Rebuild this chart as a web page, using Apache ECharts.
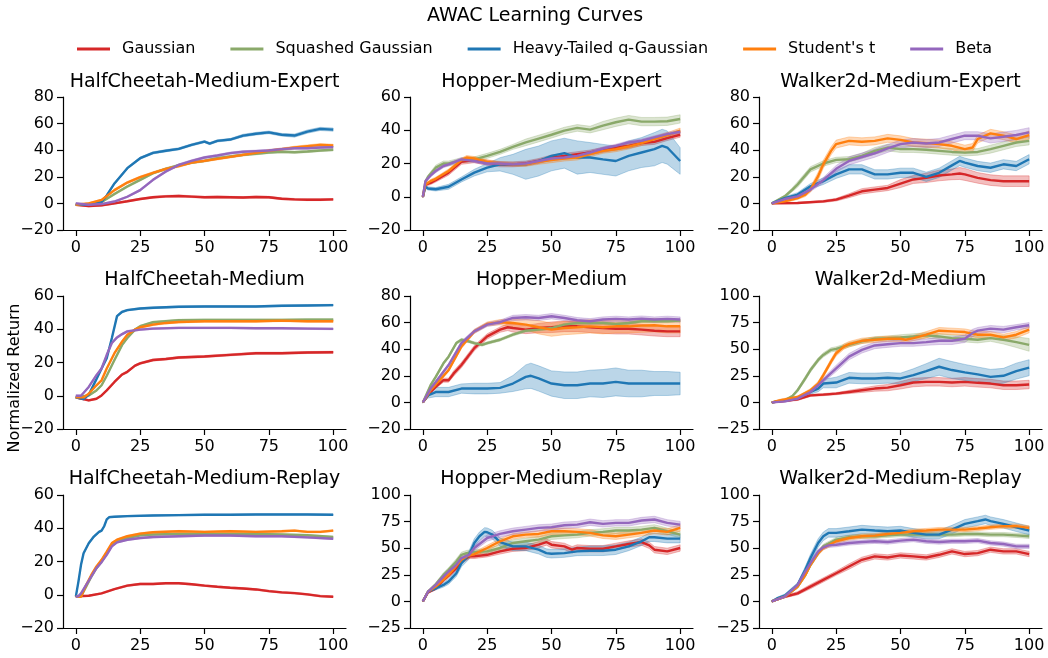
<!DOCTYPE html>
<html>
<head>
<meta charset="utf-8">
<script src="https://cdn.jsdelivr.net/npm/echarts@6/dist/echarts.min.js"></script>
<style>
html,body{margin:0;padding:0;background:#fff;}
#chart{width:1048px;height:658px;}
</style>
</head>
<body>
<div id="chart"></div>
<script>
// ---------------- DATA ----------------
const SERIES_NAMES = ['Gaussian', 'Squashed Gaussian', 'Heavy-Tailed q-Gaussian', "Student's t", 'Beta'];
const X_TICKS = [0, 25, 50, 75, 100];
const PANEL_TITLES = ['HalfCheetah-Medium-Expert', 'Hopper-Medium-Expert', 'Walker2d-Medium-Expert',
  'HalfCheetah-Medium', 'Hopper-Medium', 'Walker2d-Medium',
  'HalfCheetah-Medium-Replay', 'Hopper-Medium-Replay', 'Walker2d-Medium-Replay'];
// [min, max, interval] per panel
const Y_RANGES = [[-20, 80, 20], [-20, 60, 20], [-20, 80, 20],
  [-20, 60, 20], [-20, 80, 20], [-25, 100, 25],
  [-20, 60, 20], [-25, 100, 25], [-25, 100, 25]];

// each point: [step, mean, band half-width]
const HCME_GAUSSIAN = [[0,-1,0.6],[5,-2,0.6],[10,-1.5,0.6],[15,0,0.6],[20,1.6,0.6],[25,3.3,0.6],[30,4.6,0.7],[35,5.3,0.7],[40,5.6,0.7],[45,5.1,0.7],[50,4.6,0.7],[55,4.8,0.7],[60,4.6,0.7],[65,4.4,0.7],[70,4.8,0.7],[75,4.6,0.7],[80,3.5,0.7],[85,3,0.7],[90,2.8,0.7],[95,2.8,0.7],[100,3,0.7]];
const HCME_SQUASHED = [[0,-1,0.6],[5,-0.5,0.6],[10,1,0.6],[15,7,0.8],[20,12.7,0.8],[25,17.7,0.8],[30,22.7,0.8],[35,26,0.8],[40,28.7,0.8],[45,30.7,0.8],[50,32,0.8],[55,34,0.8],[60,35.3,0.8],[65,36.5,0.8],[70,37.3,0.8],[75,38.3,0.8],[80,38.8,0.8],[85,38.5,0.8],[90,39,0.8],[95,39.8,0.8],[100,40.3,0.8]];
const HCME_HEAVY = [[0,-1,0.6],[5,-1,0.6],[10,1,0.8],[12,6,0.8],[15,15,0.8],[20,26.5,0.8],[25,34,0.8],[30,38,0.8],[35,39.6,0.8],[40,41,0.8],[45,44,0.8],[50,46.5,0.8],[52,45,0.8],[55,47,0.8],[60,48,0.8],[65,51,1],[70,52.4,1],[75,53.4,1],[80,51.6,1],[85,51,1.2],[90,54,1.2],[95,56,1.2],[100,55.5,1.2]];
const HCME_STUDENT = [[0,-1,0.6],[5,0,0.6],[10,2.6,0.6],[15,10,0.8],[20,15.7,0.8],[25,19.7,0.8],[30,23,0.8],[35,26,0.8],[40,28,0.8],[45,30.7,0.8],[50,32,0.8],[55,33.5,0.8],[60,35,0.8],[65,36.5,0.8],[70,38,0.8],[75,39.6,0.8],[80,40.8,0.8],[85,42,1],[90,43,1],[95,44,1],[100,43.5,1]];
const HCME_BETA = [[0,0,0.6],[5,-1,0.6],[10,-0.5,0.6],[15,1.4,0.6],[20,5,0.6],[25,10,0.8],[30,17.7,0.8],[35,24,0.8],[40,29,0.8],[45,32,0.8],[50,34.5,0.8],[55,36,0.8],[60,37.8,0.8],[65,38.8,0.8],[70,39.3,0.8],[75,39.8,0.8],[80,40.8,0.8],[85,41.5,0.8],[90,41.5,0.8],[95,42,0.8],[100,42.3,0.8]];

const HME_GAUSSIAN = [[0,0,0.5],[1,7.3,1],[3,8.3,1],[5,10,1.2],[10,14.5,1.5],[15,21,1.5],[20,22,1.5],[25,20.5,1.5],[30,19.5,1.5],[35,19.5,1.5],[40,20,1.5],[45,21.5,1.5],[50,23.6,1.5],[55,24.6,1.5],[60,25.6,1.5],[65,26.6,1.5],[70,28.2,1.5],[75,29.6,1.5],[80,30.6,1.5],[85,32.3,1.5],[90,33,1.5],[95,35.3,1.5],[100,37.3,1.5]];
const HME_SQUASHED = [[0,0,0.5],[1,9,1],[2,12,1],[5,17.5,1.5],[8,20,1.5],[10,20,1.5],[15,22,1.5],[20,22.5,1.5],[25,24.6,1.5],[30,27,1.5],[35,30,1.5],[40,32.7,2],[45,35,2],[50,37.3,2],[55,39.8,2],[60,41.4,2],[65,40.4,2],[70,42.8,2.5],[75,44.8,2.5],[80,46.4,2.5],[85,45.2,2.5],[90,45.2,2.5],[95,45.4,2.5],[100,46.8,2.5]];
const HME_HEAVY = [[0,0,0.5],[1,6,1],[2,5,1],[5,4.5,1],[10,6,1.5],[15,10.4,1.5],[20,14.5,2],[25,17.5,2.5],[30,19.5,4],[35,19.5,6],[40,19.5,9],[45,21.5,9],[50,24.6,9],[55,26.2,9],[60,23.6,10],[65,23.6,9],[70,22.5,9],[75,21.5,9],[80,24.6,9],[85,26.6,9],[90,28.6,10],[93,30.6,10],[95,29.6,10],[100,21.5,8]];
const HME_STUDENT = [[0,0,0.5],[1,7.3,1],[3,9.4,1],[5,10.8,1],[10,15.5,1.2],[15,22,1.2],[17,23.6,1.2],[20,23,1.2],[25,21,1.2],[30,20,1.2],[35,19.5,1.2],[40,19.5,1.2],[45,21,1.5],[50,22,1.5],[55,23,1.5],[60,23.6,1.5],[65,25.6,1.5],[70,27.6,1.5],[75,28.6,1.5],[80,30.2,1.5],[85,32.3,1.5],[90,34.7,1.5],[95,37.1,1.5],[100,39.8,1.5]];
const HME_BETA = [[0,0,0.5],[1,9.4,1],[3,12.8,1],[5,15.5,1],[8,18.5,1],[10,19.5,1],[15,22.5,1],[20,21.5,1],[25,20,1],[30,20,1],[35,19.5,1],[40,20,1],[45,21.5,1],[50,23,1],[55,23.6,1],[60,24.6,1],[65,26.6,1],[70,29,1],[75,30.6,1],[80,32.7,1],[85,33.7,1],[90,35.7,1],[95,37.7,1],[100,39.1,1]];

const WME_GAUSSIAN = [[0,0,0.3],[10,0.3,0.5],[20,1.5,0.8],[25,2.8,1],[30,5.8,1.5],[35,9.1,2],[40,10.4,2],[45,11.6,2],[50,14.9,3],[55,18,3],[60,19.2,3.5],[65,21,4],[70,21.8,4],[73,22.5,4.5],[75,21.8,4.5],[80,19.2,4],[85,17.5,4],[90,16.7,4],[95,16.7,4],[100,16.7,4]];
const WME_SQUASHED = [[0,0,0.5],[5,5.3,1],[8,10.4,1.5],[10,14.2,2],[15,25.6,2],[20,30,2],[25,32.7,2],[30,33.2,2],[35,35.7,2],[40,39.5,2.5],[45,42,2.5],[50,40.8,2.5],[55,40.8,2.5],[60,40.3,2.5],[65,39.5,2.5],[70,38.7,2.5],[75,38.2,2.5],[80,38.7,2.5],[85,40.8,3],[90,43.3,3],[95,45.8,3],[100,47,3]];
const WME_HEAVY = [[0,0,0.5],[5,4,1],[10,6.6,1.5],[15,12.9,2],[20,16.7,2.5],[25,21.8,3],[30,25.6,3.5],[35,25.6,3.5],[40,21.8,3.5],[45,21.8,3.5],[50,23,3.5],[55,23,3.5],[60,20,3.5],[65,23,3.5],[70,28.6,3.5],[73,31.9,3.5],[75,30.6,3.5],[80,28.1,3.5],[85,26.8,3.5],[90,29.4,3.5],[95,28.1,3.5],[100,33.2,3.5]];
const WME_STUDENT = [[0,0,0.5],[5,1.5,1],[10,4,1],[13,6.6,1.5],[15,10.4,2],[18,20.5,3],[20,29.4,3],[23,39.5,3],[25,44.6,3],[30,47,3],[35,46.3,3],[40,47,3],[45,48.9,3],[50,47.8,3],[55,45.8,3],[60,45.3,3],[65,44.6,3],[70,43.3,3],[75,40.8,3],[78,42,3],[80,48.4,3],[85,52.7,3],[90,50.9,3],[95,48.4,3],[100,51.4,3]];
const WME_BETA = [[0,0,0.5],[5,3.3,1],[10,5.3,1],[15,10.4,1.5],[20,17.5,2],[25,26,2.5],[30,31.9,3],[35,34.9,3],[40,37.7,3],[45,41.3,3],[50,44.6,3],[55,45.8,3],[60,45,3],[65,45.8,3],[70,48.4,3],[75,50.9,3],[80,50.9,3],[85,48.9,3.5],[90,50.1,3.5],[95,51.4,3.5],[100,53.4,3.5]];

const HCM_GAUSSIAN = [[0,-1,0.5],[5,-2.8,0.5],[8,-1.8,0.5],[10,0.2,0.5],[12,3.2,0.5],[15,8.3,0.6],[18,12.8,0.6],[20,14.4,0.6],[23,18.1,0.6],[25,19.5,0.6],[30,21.5,0.6],[35,22.1,0.6],[40,23,0.6],[50,23.6,0.6],[60,24.6,0.6],[70,25.6,0.6],[80,25.6,0.6],[90,26,0.6],[100,26.2,0.6]];
const HCM_SQUASHED = [[0,-1,0.5],[5,0.2,0.5],[8,3.2,0.5],[10,6.3,0.6],[12,12,0.6],[15,21.5,0.6],[18,30.6,0.6],[20,34.7,0.6],[23,39.8,0.6],[25,41.8,0.6],[30,44.2,0.6],[35,44.8,0.6],[40,45.4,0.6],[50,45.6,0.6],[60,45.6,0.6],[70,45.6,0.6],[80,45.6,0.6],[90,45.8,0.6],[100,45.8,0.6]];
const HCM_HEAVY = [[0,-1,0.5],[3,-2,0.5],[5,0.6,0.5],[8,10,0.6],[10,16.4,0.6],[12,22.6,0.6],[14,34.7,0.6],[16,47.9,0.6],[18,50.5,0.6],[20,51.5,0.5],[25,52.5,0.5],[30,52.9,0.5],[40,53.5,0.5],[50,53.7,0.5],[60,53.7,0.5],[70,53.7,0.5],[80,54.1,0.5],[90,54.3,0.5],[100,54.5,0.5]];
const HCM_STUDENT = [[0,-1,0.5],[3,-1,0.5],[5,1.2,0.5],[8,6.3,0.6],[10,9.3,0.6],[12,16.4,0.6],[15,25.6,0.6],[18,32.7,0.6],[20,36.7,0.6],[23,39.8,0.6],[25,41.2,0.6],[30,42.8,0.6],[35,43.8,0.6],[40,44.4,0.6],[50,44.8,0.6],[60,44.8,0.6],[70,44.8,0.6],[80,45.2,0.6],[90,44.8,0.6],[100,44.8,0.6]];
const HCM_BETA = [[0,0,0.5],[2,0,0.5],[5,5.3,0.6],[8,12.4,0.6],[10,16.4,0.6],[12,24.6,0.6],[14,31.7,0.6],[16,35.1,0.6],[18,37.1,0.6],[20,38.7,0.6],[25,39.8,0.5],[30,40.4,0.5],[40,40.8,0.5],[50,40.8,0.5],[60,40.8,0.5],[70,40.6,0.5],[80,40.6,0.5],[90,40.4,0.5],[100,40.2,0.5]];

const HM_GAUSSIAN = [[0,0,0.5],[3,7.8,1],[5,11.6,1],[8,16.7,1.5],[10,16.7,1.5],[12,21.8,2],[15,28.1,2],[20,40.8,2],[25,49.6,2],[30,54.7,2],[33,56.5,2.5],[35,55.9,3],[40,54.7,3],[45,55.9,3.5],[50,56.5,4],[55,57.2,4],[60,57.2,4],[65,56.5,4],[70,55.9,4],[75,55.4,4],[80,55.4,4],[85,54.7,4],[90,53.9,4],[95,53.4,4],[100,53.4,4]];
const HM_SQUASHED = [[0,0,0.5],[3,12.9,1],[5,19.2,1],[8,29.4,1],[10,34.4,1],[13,44.6,1],[15,47.1,1],[18,45.8,1],[20,44.6,1],[23,43.3,1],[25,44.6,1],[30,47.1,1],[35,50.9,1],[40,53.9,1],[45,54.7,1],[50,55.9,1],[55,58.5,1],[60,59.7,1],[65,59.7,1],[70,59.7,1],[75,59,1],[80,59.7,1],[85,61,1],[90,61,1],[95,61,1],[100,61.5,1]];
const HM_HEAVY = [[0,0,0.5],[2,5.3,2],[5,7.8,3.5],[10,7.8,3.5],[15,10.4,3.5],[20,10.4,4],[25,10.4,4],[30,10.9,4],[35,14.2,6],[40,19.2,9],[42,20,9.5],[45,18,9.5],[50,14.2,9.5],[55,12.9,10],[60,12.9,10],[65,14.2,10],[70,14.2,10.5],[75,15.4,10.5],[80,14.2,10],[85,14.2,10],[90,14.2,9],[95,14.2,9],[100,14.2,8.5]];
const HM_STUDENT = [[0,0,0.5],[3,9.1,1],[5,13.4,1],[10,24.3,1],[15,42,1.5],[20,53.4,1.5],[25,59,1.5],[30,60.3,2],[35,59.7,3],[40,58.5,4],[45,56.5,5],[50,54.7,5],[55,55.9,5],[60,56.5,5],[65,57.2,5],[70,56.5,5],[75,57.2,5],[80,57.2,5],[85,57.7,5],[90,58,5],[95,57.2,5],[100,57.2,5]];
const HM_BETA = [[0,0,0.5],[3,10.4,1],[5,15.4,1],[8,23,1],[10,28.1,1],[15,44.6,1.5],[20,53.4,1.5],[25,58.5,1.5],[30,60.3,1.5],[35,63.5,2],[40,64,2],[45,63.5,2],[50,64.8,2],[55,63.5,2],[60,61.8,2],[65,61,2],[70,62.3,2],[75,62.8,2],[80,62.3,2],[85,63,2],[90,62.3,2],[95,62.8,2],[100,62.3,2]];

const WM_GAUSSIAN = [[0,0,0.5],[10,2.8,1],[15,6.6,1],[20,7.3,1],[25,8.2,1],[30,9.8,1.5],[35,11.4,2],[40,13,2.5],[45,13.9,3],[50,16.1,3.5],[55,18.7,4],[60,19.3,4],[65,19.3,4],[70,18.7,4],[75,19.3,4],[80,18.4,4],[85,17.7,4],[90,16.1,4],[95,16.1,4],[100,16.8,4]];
const WM_SQUASHED = [[0,0,0.5],[5,1.9,1],[8,6,1],[10,11.4,1.5],[13,22.5,2],[15,30.4,2],[18,39.9,2],[20,44.6,2],[23,49.4,2],[25,50.3,2],[30,54.1,2],[35,57.3,2],[40,59.8,2],[45,60.4,2],[50,61.1,2.5],[55,62,2.5],[60,63,2.5],[65,62,2.5],[70,60.4,3],[75,59.8,3],[80,58.9,3],[85,60.4,3],[90,58.9,4],[95,56.6,5],[100,54.1,6]];
const WM_HEAVY = [[0,0,0.5],[5,1.9,1],[10,4.1,1.5],[15,9.8,2],[18,13,3],[20,17.7,4],[25,18.7,5],[30,23.1,5],[35,22.5,5],[40,22.5,5],[45,23.1,5],[50,22.5,5],[55,25.6,6],[60,29.4,7],[65,33.5,8],[70,30.4,8],[75,28.2,7.5],[80,26.3,7],[85,24,7],[90,25,7],[95,29.4,7.5],[100,32.6,7.5]];
const WM_STUDENT = [[0,0,0.5],[3,1.9,1],[5,2.8,1],[10,5.1,1],[15,11.4,1.5],[18,17.7,2],[20,25.6,2],[23,38.3,2.5],[25,46.2,2.5],[28,52.5,2.5],[30,54.7,2.5],[35,57.9,2.5],[40,58.9,2.5],[45,59.8,2.5],[50,59.8,2.5],[52,58.9,2.5],[55,60.4,2.5],[60,63.6,3],[65,67.4,3],[70,66.8,3],[75,66.1,3],[80,63.6,3],[85,63.6,3],[90,61.1,3],[95,63.6,3],[100,68.4,3]];
const WM_BETA = [[0,0,0.5],[5,1,1],[10,3.5,1],[15,9.8,1.5],[18,16.1,2],[20,20.9,2],[25,32,3],[30,43,3],[35,49.4,3],[40,53.5,3],[45,54.7,3],[50,55.7,3],[55,55.7,3],[60,56.6,3],[65,57.9,3.5],[70,57.9,3.5],[75,59.8,3.5],[78,65.2,3.5],[80,67.4,3],[85,69.3,3],[90,68.4,3],[95,70.6,2.5],[100,72.5,2.5]];

const HCMR_GAUSSIAN = [[0,-1,0.4],[5,-0.6,0.4],[10,0.8,0.4],[15,3.4,0.4],[20,5.5,0.5],[25,6.5,0.5],[30,6.5,0.5],[35,6.9,0.5],[40,6.9,0.5],[45,6.3,0.5],[50,5.5,0.5],[55,4.8,0.5],[60,4.2,0.5],[65,3.8,0.5],[70,3.2,0.5],[75,2.2,0.5],[80,1.4,0.5],[85,1,0.5],[90,0.2,0.5],[95,-0.8,0.5],[100,-1.2,0.5]];
const HCMR_SQUASHED = [[0,-1,0.4],[2,-1,0.4],[4,4.8,0.5],[6,10.9,0.5],[8,16,0.5],[10,20,0.5],[12,25,0.5],[14,30.1,0.5],[16,32.1,0.5],[20,34.1,0.5],[25,35.8,0.5],[30,36.2,0.5],[40,36.6,0.5],[50,36.6,0.5],[60,36.6,0.5],[70,36.6,0.5],[80,36.2,0.5],[90,35.8,0.5],[100,34.7,0.5]];
const HCMR_HEAVY = [[0,-1,0.4],[1,7.9,0.6],[2,18,0.6],[3,25,0.6],[5,31,0.6],[7,35,0.6],[9,37.8,0.5],[10,38.6,0.5],[11,41.2,0.5],[12,45.3,0.5],[13,46.7,0.5],[15,46.9,0.4],[20,47.3,0.4],[30,47.7,0.4],[40,47.9,0.4],[50,48.1,0.4],[60,48.1,0.4],[70,48.3,0.4],[80,48.3,0.4],[90,48.3,0.4],[100,48.1,0.4]];
const HCMR_STUDENT = [[0,-1,0.4],[2,-1.2,0.4],[4,5.9,0.5],[6,11.9,0.5],[8,17,0.5],[10,21,0.5],[12,26,0.5],[14,31.1,0.5],[16,33.1,0.5],[20,35.2,0.5],[25,36.8,0.5],[30,37.6,0.5],[40,38.2,0.5],[50,37.8,0.5],[60,38.2,0.5],[70,37.8,0.5],[80,38.2,0.5],[85,38.6,0.5],[90,37.8,0.5],[95,37.8,0.5],[100,38.6,0.5]];
const HCMR_BETA = [[0,-1.2,0.4],[1,-0.8,0.4],[2,0.8,0.4],[4,5.9,0.5],[6,10.9,0.5],[8,16,0.5],[10,19.6,0.5],[12,24,0.5],[14,29.1,0.5],[16,31.5,0.5],[20,33.1,0.5],[25,34.1,0.5],[30,34.7,0.5],[40,35.2,0.5],[50,35.6,0.5],[60,35.6,0.5],[70,35.2,0.5],[80,35.2,0.5],[90,34.5,0.5],[100,33.7,0.5]];

const HMR_GAUSSIAN = [[0,0,0.5],[2,8.5,1],[5,12.3,1.5],[8,20.2,2],[10,24.3,2],[13,31.2,2],[15,37.5,2],[18,42.3,2],[20,42.3,2],[25,43.8,2],[30,47,2.5],[35,49.5,2.5],[40,50.2,2.5],[45,53.3,3],[48,55.8,3],[50,53.3,3],[55,51.7,3],[58,48.6,3],[60,50.2,3],[65,49.5,3],[70,49.5,3],[75,51.7,3],[80,53.9,3],[85,55.8,3],[88,52.7,3],[90,48.6,3],[95,47,3],[100,50.2,3]];
const HMR_SQUASHED = [[0,0,0.5],[2,9.1,1],[5,16.1,1.5],[8,24.9,2],[10,29.7,2],[13,37.5,2.5],[15,43.8,2.5],[17,45.4,2.5],[20,46.4,2.5],[25,47,2.5],[30,50.2,3],[35,54.9,3],[40,56.5,3],[45,58.1,3],[50,61.2,3],[55,62.1,3],[60,62.8,3],[65,64.4,3],[70,65.3,3],[75,66.6,3],[80,66.6,3],[85,67.5,3],[90,69.1,3],[95,65.9,3],[100,62.8,3]];
const HMR_HEAVY = [[0,0,0.5],[2,9.1,1],[5,12.3,1.5],[8,15.5,2],[10,18.6,2.5],[13,26.5,3],[15,36,3.5],[18,43.8,4],[20,54.9,4],[22,61.2,4],[24,65.3,4],[25,65,4],[27,62.8,4],[30,55.8,4],[35,51.7,4],[40,51.7,4],[45,48.6,4],[48,45.4,4],[50,44.8,4],[55,45.4,4],[60,47,4],[65,47.6,4.5],[70,47.6,4.5],[75,48.6,4.5],[80,51.7,4],[85,56.5,4],[88,60.3,4],[90,60.3,4],[95,59,4],[100,59,4]];
const HMR_STUDENT = [[0,0,0.5],[2,9.1,1],[5,13.9,1.5],[10,24.9,2],[15,39.1,2],[17,42.3,2],[20,44.5,2],[25,50.2,2.5],[30,56.5,2.5],[35,61.2,2.5],[40,62.8,2.5],[45,63.4,3],[50,65.9,3],[55,65.9,3],[60,65.3,3],[65,64.4,3],[70,62.1,3],[75,61.2,3],[80,62.8,3],[85,64.4,3],[90,66.6,3],[95,65.3,3],[100,69.1,3]];
const HMR_BETA = [[0,0,0.5],[2,9.1,1],[5,15.5,1.5],[8,23.3,2],[10,28.1,2],[13,34.4,2.5],[15,40.7,2.5],[18,43.8,2.5],[20,50.2,2.5],[25,59.6,3],[30,63.4,3],[35,65.9,3],[40,67.5,3],[45,69.1,3],[50,69.7,3],[55,71.6,3],[60,72.2,3],[65,74.4,3],[70,72.9,3],[75,73.8,3],[80,73.8,3],[85,76,3],[90,77,3],[95,73.8,3],[100,72.2,3]];

const WMR_GAUSSIAN = [[0,0,0.5],[5,4.4,1],[10,7.6,1.5],[15,13.9,2],[20,20.2,2],[25,26.5,2],[30,32.8,2.5],[35,39.1,2.5],[40,42.3,2.5],[45,41.3,2.5],[50,43.2,2.5],[55,42.3,2.5],[60,41.3,2.5],[65,43.8,2.5],[70,47,2.5],[75,44.5,2.5],[80,45.4,2.5],[85,48.6,2.5],[90,47,2.5],[95,47,2.5],[100,44.5,2.5]];
const WMR_SQUASHED = [[0,0,0.5],[5,4.4,1],[10,13.9,1.5],[13,24.9,2],[15,34.4,2],[18,45.4,2],[20,51.7,2],[25,58.1,2],[30,60.3,2],[35,61.2,2],[40,61.2,2],[45,62.1,2],[50,62.8,2],[55,62.8,2],[60,62.8,2],[65,62.8,2],[70,62.8,2],[75,63.4,2],[80,63.4,2],[85,62.8,2],[90,62.8,2],[95,62.1,2],[100,61.2,2]];
const WMR_HEAVY = [[0,0,0.5],[2,2.8,1],[5,5.4,1.5],[10,15.5,2],[13,29.7,3],[15,40.7,3.5],[18,54.9,4],[20,61.2,4],[22,64.4,4],[25,64.4,4],[30,65.9,4],[35,67.5,4],[40,66.6,4],[45,65.9,4],[50,66.6,4],[55,64.4,4],[60,62.8,4],[65,62.8,4],[70,67.5,4],[75,72.9,4],[80,75.4,4],[83,77,4],[85,75.4,4],[90,72.9,4],[95,69.7,4],[100,66.6,4]];
const WMR_STUDENT = [[0,0,0.5],[5,4.4,1],[10,13.9,1.5],[13,24.9,2],[15,34.4,2],[18,45.4,2],[20,50.2,2],[25,56.5,2],[30,59.6,2],[35,61.2,2],[40,61.8,2],[45,63.4,2],[50,64.4,2],[55,65.9,2],[60,66.6,2],[65,67.5,2],[70,67.5,2],[75,67.5,2],[80,68.5,2],[85,69.7,2],[90,70.7,2],[95,70.7,2],[100,69.1,2]];
const WMR_BETA = [[0,0,0.5],[5,4.4,1],[10,15.5,1.5],[13,28.1,2],[15,36,2],[18,47,2],[20,50.8,2],[22,52.7,2],[25,53.3,2],[30,54.9,2],[35,55.8,2],[40,56.5,2],[45,55.8,2],[50,57.1,2],[55,58.1,2],[60,56.5,2],[65,55.8,2],[70,56.5,2],[75,56.5,2],[80,57.1,2],[85,54.9,2],[90,53.9,2],[95,51.7,2],[100,51.7,2]];

const PANEL_DATA = [
  [HCME_GAUSSIAN, HCME_SQUASHED, HCME_HEAVY, HCME_STUDENT, HCME_BETA],
  [HME_GAUSSIAN, HME_SQUASHED, HME_HEAVY, HME_STUDENT, HME_BETA],
  [WME_GAUSSIAN, WME_SQUASHED, WME_HEAVY, WME_STUDENT, WME_BETA],
  [HCM_GAUSSIAN, HCM_SQUASHED, HCM_HEAVY, HCM_STUDENT, HCM_BETA],
  [HM_GAUSSIAN, HM_SQUASHED, HM_HEAVY, HM_STUDENT, HM_BETA],
  [WM_GAUSSIAN, WM_SQUASHED, WM_HEAVY, WM_STUDENT, WM_BETA],
  [HCMR_GAUSSIAN, HCMR_SQUASHED, HCMR_HEAVY, HCMR_STUDENT, HCMR_BETA],
  [HMR_GAUSSIAN, HMR_SQUASHED, HMR_HEAVY, HMR_STUDENT, HMR_BETA],
  [WMR_GAUSSIAN, WMR_SQUASHED, WMR_HEAVY, WMR_STUDENT, WMR_BETA]
];

// ---------------- STYLE / LAYOUT ----------------
const COLORS = ['#d62728', '#8aa96a', '#1f77b4', '#ff7f0e', '#9467bd'];
const FONT = 'DejaVu Sans';
const COL_LEFT = [63, 410, 759];
const ROW_TOP = [97, 296, 495];
const GRID_W = 283, GRID_H = 133;
const TITLE_Y = [82, 280, 479];

function rgba(hex, a) {
  const n = parseInt(hex.slice(1), 16);
  return 'rgba(' + ((n >> 16) & 255) + ',' + ((n >> 8) & 255) + ',' + (n & 255) + ',' + a + ')';
}
function tickFmt(v) { return v < 0 ? '\u2212' + (-v) : String(v); }

const grids = [], xAxes = [], yAxes = [], series = [], graphics = [];
PANEL_TITLES.forEach((title, p) => {
  const r = Math.floor(p / 3), c = p % 3;
  grids.push({left: COL_LEFT[c], top: ROW_TOP[r], width: GRID_W, height: GRID_H, containLabel: false});
  xAxes.push({
    type: 'value', gridIndex: p, min: -5, max: 105,
    splitLine: {show: false},
    axisLine: {show: true, onZero: false, lineStyle: {color: '#000', width: 1.2}},
    axisTick: {show: true, length: 6, customValues: X_TICKS, lineStyle: {color: '#000', width: 1.2}},
    axisLabel: {customValues: X_TICKS, color: '#000', fontSize: 16, fontFamily: FONT, margin: 10, formatter: tickFmt}
  });
  const yr = Y_RANGES[p];
  yAxes.push({
    type: 'value', gridIndex: p, min: yr[0], max: yr[1], interval: yr[2],
    splitLine: {show: false},
    axisLine: {show: true, onZero: false, lineStyle: {color: '#000', width: 1.2}},
    axisTick: {show: true, length: 6, lineStyle: {color: '#000', width: 1.2}},
    axisLabel: {color: '#000', fontSize: 16, fontFamily: FONT, margin: 9, formatter: tickFmt}
  });
  graphics.push({
    type: 'text', x: COL_LEFT[c] + GRID_W / 2, y: TITLE_Y[r],
    style: {text: title, fill: '#000', font: '19px "' + FONT + '"', textAlign: 'center', textVerticalAlign: 'middle'}
  });
  PANEL_DATA[p].forEach((arr, k) => {
    const col = COLORS[k];
    series.push({
      type: 'custom', name: 'band', xAxisIndex: p, yAxisIndex: p, z: 1, silent: true,
      data: arr.map(d => [d[0], d[1]]),
      encode: {x: 0, y: 1},
      renderItem: function (params, api) {
        if (params.dataIndex !== 0) return null;
        const up = arr.map(d => api.coord([d[0], d[1] + d[2]]));
        const lo = arr.map(d => api.coord([d[0], d[1] - d[2]])).reverse();
        return {type: 'polygon', shape: {points: up.concat(lo)},
          style: {fill: rgba(col, 0.3), stroke: rgba(col, 0.3), lineWidth: 1}};
      }
    });
  });
  PANEL_DATA[p].forEach((arr, k) => {
    series.push({
      type: 'line', name: SERIES_NAMES[k], xAxisIndex: p, yAxisIndex: p, z: 2,
      data: arr.map(d => [d[0], d[1]]),
      showSymbol: false, symbol: 'none', smooth: false,
      lineStyle: {color: COLORS[k], width: 2.4},
      itemStyle: {color: COLORS[k]},
      emphasis: {disabled: true}
    });
  });
});

graphics.push({
  type: 'text', x: 535, y: 16,
  style: {text: 'AWAC Learning Curves', fill: '#000', font: '19px "' + FONT + '"', textAlign: 'center', textVerticalAlign: 'middle'}
});
graphics.push({
  type: 'text', x: 15, y: 378, rotation: Math.PI / 2,
  style: {text: 'Normalized Return', fill: '#000', font: '16px "' + FONT + '"', textAlign: 'center', textVerticalAlign: 'middle'}
});

const chart = echarts.init(document.getElementById('chart'), null, {renderer: 'canvas'});
chart.setOption({
  animation: false,
  backgroundColor: '#fff',
  color: COLORS,
  legend: {
    data: SERIES_NAMES, left: 77, top: 41, padding: 0,
    icon: 'rect', itemWidth: 33, itemHeight: 3, itemGap: 35,
    textStyle: {fontSize: 16, fontFamily: FONT, color: '#000', padding: [0, 0, 0, 7]}
  },
  grid: grids, xAxis: xAxes, yAxis: yAxes,
  series: series,
  graphic: graphics
});
</script>
</body>
</html>
